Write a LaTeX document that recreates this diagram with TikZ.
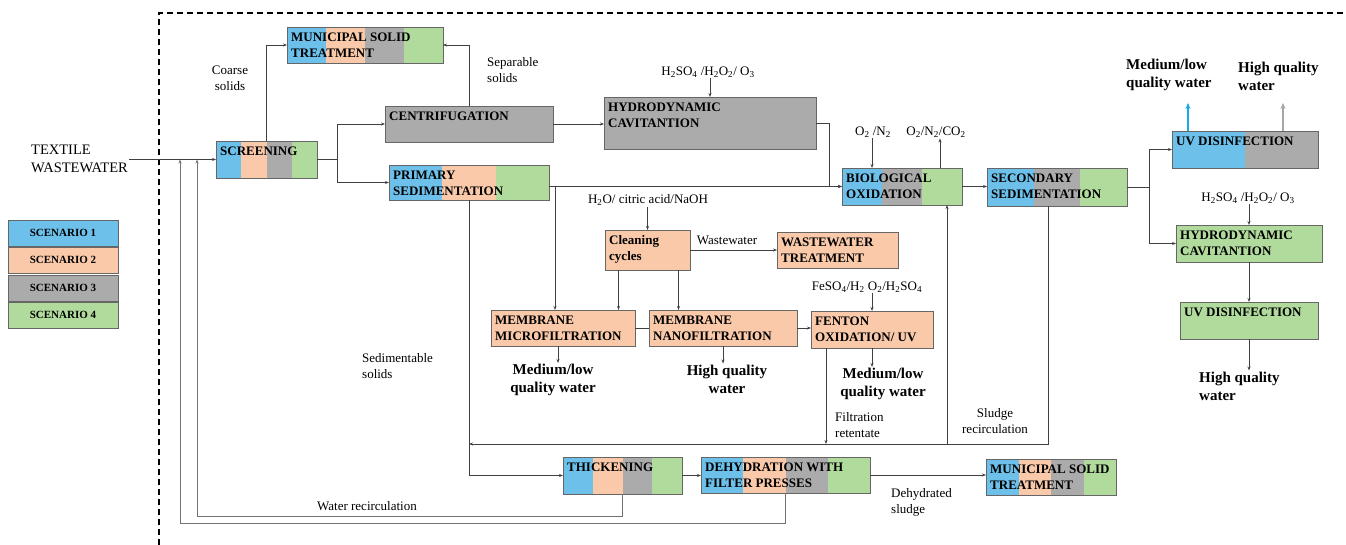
\documentclass[tikz,border=0pt]{standalone}
\usepackage{fontspec}
\setmainfont{Liberation Serif}
\usetikzlibrary{arrows.meta,positioning,fit,calc}
\definecolor{scA}{HTML}{6CC0EA}
\definecolor{scB}{HTML}{F9C9A9}
\definecolor{scC}{HTML}{ABABAB}
\definecolor{scD}{HTML}{B0DB9C}
\definecolor{outBlue}{HTML}{19A9E6}
\definecolor{outGray}{HTML}{A6A6A6}
\newcommand\boxfont{\fontsize{13}{16}\selectfont\bfseries}
\newcommand\notefont{\fontsize{13}{16}\selectfont}
\newcommand\waterfont{\fontsize{15}{18}\selectfont\bfseries}
\newcommand\legfont{\fontsize{11}{13}\selectfont\bfseries}
\newcommand\stripes[1]{%
  \foreach \c [count=\k] in {#1}{\xdef\nbands{\k}}%
  \foreach \c [count=\k from 0] in {#1}{%
    \fill[\c] ($(path picture bounding box.south west)!{\k/\nbands}!(path picture bounding box.south east)$)
      rectangle ($(path picture bounding box.north west)!{(\k+1)/\nbands}!(path picture bounding box.north east)$);}}

\begin{document}
\begin{tikzpicture}[x=1pt,y=-1pt,
  box/.style={draw=black!60,line width=0.7pt,inner sep=0pt,outer sep=0pt},
  bands/.style={path picture={\stripes{#1}}},
  tag/.style={label={[boxtext]north west:{#1}}},
  boxtext/.style={anchor=north west,inner xsep=4pt,inner ysep=5.5pt,align=left,font=\boxfont},
  note/.style={font=\notefont,align=center,inner sep=1pt},
  water/.style={font=\waterfont,align=center,inner sep=1pt},
  leg/.style={box,anchor=north west,minimum width=110pt,minimum height=26pt,font=\legfont},
  edge/.style={-{Stealth[length=4pt,width=3pt]},line width=0.8pt,draw=black!75},
  link/.style={line width=0.8pt,draw=black!75},
  recirc/.style={edge,draw=black!55,line width=1pt},
  outlet/.style={-{Stealth[length=6pt,width=5pt]},line width=2pt}
]
  \useasboundingbox (0,0) rectangle (1346,545);
  \draw[line width=1.2pt,dash pattern=on 6pt off 4pt] (159,545) -- (159,13) -- (1346,13);

  \foreach \c/\n/\y in {scA/1/220,scB/2/247,scC/3/275,scD/4/302}
    \node[leg,fill=\c] (leg\n) at (8,\y) {SCENARIO \n};

  \node[box,bands={scA,scB,scC,scD},fit={(216,141)(317,178)},tag={SCREENING}] (scr) {};
  \node[box,bands={scA,scB,scC,scD},fit={(287,27)(443,63)},tag={MUNICIPAL SOLID\\TREATMENT}] (mst1) {};
  \node[box,fill=scC,fit={(385,106)(553,142)},tag={CENTRIFUGATION}] (cent) {};
  \node[box,fill=scC,fit={(604,97)(816,149)},tag={HYDRODYNAMIC\\CAVITANTION}] (hcav1) {};
  \node[box,bands={scA,scB,scD},fit={(389,165)(549,200)},tag={PRIMARY\\SEDIMENTATION}] (psed) {};
  \node[box,fill=scB,fit={(605,230)(690,270)},tag={Cleaning\\cycles}] (clean) {};
  \node[box,fill=scB,fit={(777,232)(898,268)},tag={WASTEWATER\\TREATMENT}] (wwt) {};
  \node[box,fill=scB,fit={(491,310)(635,346)},tag={MEMBRANE\\MICROFILTRATION}] (mf) {};
  \node[box,fill=scB,fit={(649,310)(797,346)},tag={MEMBRANE\\NANOFILTRATION}] (nf) {};
  \node[box,fill=scB,fit={(811,311)(933,348)},tag={FENTON\\OXIDATION/ UV}] (fent) {};
  \node[box,bands={scA,scC,scD},fit={(842,168)(962,205)},tag={BIOLOGICAL\\OXIDATION}] (bio) {};
  \node[box,bands={scA,scC,scD},fit={(987,168)(1127,206)},tag={SECONDARY\\SEDIMENTATION}] (ssed) {};
  \node[box,bands={scA,scC},fit={(1172,131)(1318,168)},tag={UV DISINFECTION}] (uv1) {};
  \node[box,fill=scD,fit={(1176,225)(1322,262)},tag={HYDRODYNAMIC\\CAVITANTION}] (hcav2) {};
  \node[box,fill=scD,fit={(1180,302)(1318,339)},tag={UV DISINFECTION}] (uv2) {};
  \node[box,bands={scA,scB,scC,scD},fit={(563,457)(682,494)},tag={THICKENING}] (thick) {};
  \node[box,bands={scA,scB,scC,scD},fit={(701,457)(870,493)},tag={DEHYDRATION WITH\\FILTER PRESSES}] (dehyd) {};
  \node[box,bands={scA,scB,scC,scD},fit={(986,459)(1116,495)},tag={MUNICIPAL SOLID\\TREATMENT}] (mst2) {};

  \node[note,font=\fontsize{14.5}{18}\selectfont,align=left,anchor=west] (tww) at (30,159) {TEXTILE\\WASTEWATER};
  \node[note] (coarse) at (230,78) {Coarse\\solids};
  \node[note,align=left,anchor=west] (separ) at (486,70) {Separable\\solids};
  \node[note,align=left,anchor=west] (sedim) at (361,366) {Sedimentable\\solids};
  \node[note] (wwlab) at (727,240) {Wastewater};
  \node[note,align=left,anchor=west] (retent) at (834,425) {Filtration\\retentate};
  \node[note] (sludge) at (995,421) {Sludge\\recirculation};
  \node[note,align=left,anchor=west] (dried) at (890,502) {Dehydrated\\sludge};
  \node[note] (wrec) at (367,506) {Water recirculation};

  \node[note] (chem1) at (708,72) {H\textsubscript{2}SO\textsubscript{4} /H\textsubscript{2}O\textsubscript{2}/ O\textsubscript{3}};
  \node[note] (gas1) at (873,132) {O\textsubscript{2} /N\textsubscript{2}};
  \node[note] (gas2) at (936,132) {O\textsubscript{2}/N\textsubscript{2}/CO\textsubscript{2}};
  \node[note] (wash) at (648,200) {H\textsubscript{2}O/ citric acid/NaOH};
  \node[note] (fchem) at (867,287) {FeSO\textsubscript{4}/H\textsubscript{2} O\textsubscript{2}/H\textsubscript{2}SO\textsubscript{4}};
  \node[note] (chem2) at (1248,198) {H\textsubscript{2}SO\textsubscript{4} /H\textsubscript{2}O\textsubscript{2}/ O\textsubscript{3}};

  \node[water] (mfw) at (553,380) {Medium/low\\quality water};
  \node[water] (nfw) at (727,379) {High quality\\water};
  \node[water] (few) at (883,384) {Medium/low\\quality water};
  \node[water,align=left,anchor=west] (uvw1) at (1125,75) {Medium/low\\quality water};
  \node[water,align=left,anchor=west] (uvw2) at (1237,76) {High quality\\water};
  \node[water,align=left,anchor=west] (uvw3) at (1198,386) {High quality\\water};

  \path (psed.south |- 0,444) coordinate (back);
  \path ($(uv1.north)+(-57,-28)$) coordinate (outA);
  \path ($(uv1.north)+(38,-28)$) coordinate (outB);

  \draw[edge] (tww.east |- scr.west) -- (scr.west);
  \draw[edge] (scr.north) |- (mst1.west);
  \draw[link] (scr.east) -- ++(20,0) coordinate (fork1);
  \draw[edge] (fork1) |- (cent.west);
  \draw[edge] (fork1) |- (psed.west);
  \draw[edge] (cent.north) |- (mst1.east);
  \draw[edge] (cent.east) -- (cent.east -| hcav1.west);
  \draw[edge] (chem1.south -| hcav1.north) -- (hcav1.north);
  \draw[edge] (hcav1.east) -- ++(13,0) |- (bio.west);
  \draw[edge] (psed.east |- bio.west) -- (bio.west);
  \draw[edge] ([xshift=6pt]psed.east |- bio.west) -- ([xshift=6pt]psed.east |- mf.north);
  \draw[edge] (psed.south) |- (thick.west);
  \draw[edge] (wash.south -| clean.north) -- (clean.north);
  \draw[edge] (clean.east) -- (clean.east -| wwt.west);
  \draw[edge] ([xshift=-29pt]clean.south) -- ([xshift=-29pt]clean.south |- mf.north);
  \draw[edge] ([xshift=31pt]clean.south) -- ([xshift=31pt]clean.south |- nf.north);
  \draw[link] (mf.east) -- (nf.west);
  \draw[edge] (nf.east) -- (nf.east -| fent.west);
  \draw[edge] (fchem.south -| fent.north) -- (fent.north);
  \draw[edge] ([xshift=-5pt]mf.south) -- ([xshift=-5pt]mf.south |- mfw.north);
  \draw[edge] (nf.south) -- (nf.south |- nfw.north);
  \draw[edge] (fent.south) -- (fent.south |- few.north);
  \draw[edge] ([xshift=-46pt]fent.south) -- ([xshift=-46pt]fent.south |- back);
  \draw[edge] ([xshift=-30pt]bio.north |- gas1.south) -- ([xshift=-30pt]bio.north);
  \draw[edge] ([xshift=38pt]bio.north) -- ([xshift=38pt]bio.north |- gas2.south);
  \draw[edge] (bio.east) -- (bio.east -| ssed.west);
  \draw[edge] ([xshift=-9pt]ssed.south) |- (back);
  \draw[edge] ([xshift=45pt]bio.south |- back) -- ([xshift=45pt]bio.south);
  \draw[link] (ssed.east) -- ++(22,0) coordinate (fork2);
  \draw[edge] (fork2) |- (uv1.west);
  \draw[edge] (fork2) |- (hcav2.west);
  \draw[outlet,draw=outBlue,fill=outBlue] (outA |- uv1.north) -- (outA);
  \draw[outlet,draw=outGray,fill=outGray] (outB |- uv1.north) -- (outB);
  \draw[edge] (chem2.south -| hcav2.north) -- (hcav2.north);
  \draw[edge] (hcav2.south) -- (uv2.north);
  \draw[edge] (uv2.south) -- (uv2.south |- uvw3.north);
  \draw[edge] (thick.east) -- (thick.east -| dehyd.west);
  \draw[edge] (dehyd.east) -- (dehyd.east -| mst2.west);
  \draw[recirc] (thick.south) -- (thick.south |- 0,516) -| ([xshift=-19pt]scr.west);
  \draw[recirc] (dehyd.south) -- (dehyd.south |- 0,523) -| ([xshift=-36pt]scr.west);
\end{tikzpicture}
\end{document}
